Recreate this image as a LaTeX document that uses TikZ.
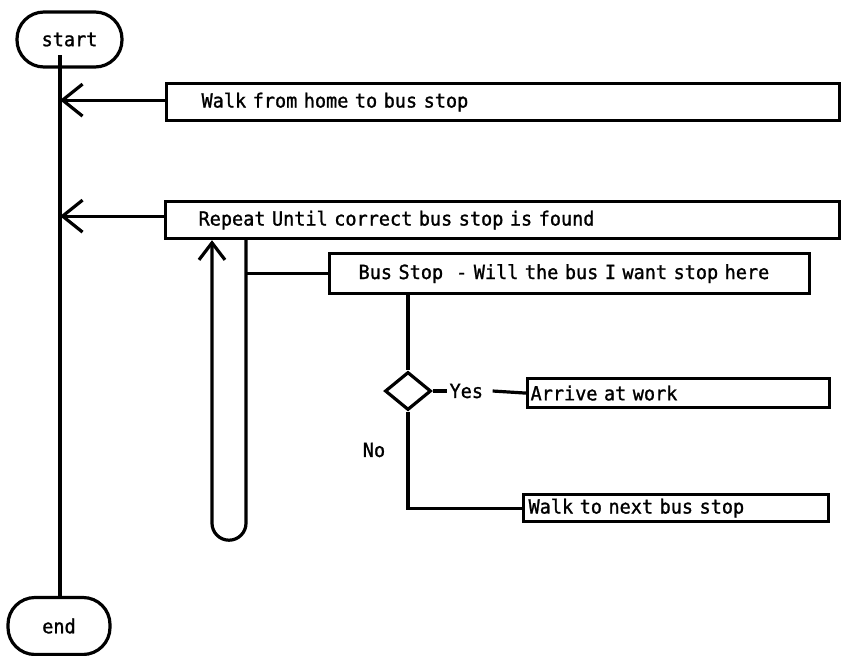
\documentclass[tikz,border=0pt]{standalone}
\usepackage{fontspec}
\newfontfamily\dotfont[FakeStretch=0.95,FakeBold=1.2]{DejaVu Sans Mono}
\usetikzlibrary{arrows.meta,shapes.geometric,calc}
\begin{document}
\begin{tikzpicture}[x=1pt,y=-1pt,line width=3.2pt,
  txt/.style={font=\dotfont\fontsize{19.5}{21}\selectfont},
  box/.style={txt,draw,anchor=north west,align=left,inner ysep=0pt},
  term/.style={txt,draw,rounded corners=27pt},
  bigarrow/.style={-{Straight Barb[length=20pt,width=32pt]}},
  uparrow/.style={-{Straight Barb[length=17pt,width=26pt]}}]
\useasboundingbox (0,0) rectangle (847,656);
\fill[white] (0,0) rectangle (847,656);
% terminals
\node[term,minimum width=105pt,minimum height=55pt] (start) at (69.5,39.5) {start};
\node[term,minimum width=102pt,minimum height=57pt] (stop) at (59,626) {end};
\coordinate (top) at (60,55);
\draw (top) -- (top |- stop.north);
% boxes
\node[box,minimum width=673pt,minimum height=37pt,inner xsep=35pt,text width=603pt] (b1) at (165,82) {Walk from home to bus stop};
\node[box,minimum width=674pt,minimum height=37pt,inner xsep=33pt,text width=608pt] (b2) at (164,200) {Repeat Until correct bus stop is found};
\node[box,minimum width=480pt,minimum height=40pt,inner xsep=29pt,text width=422pt] (b3) at (328,252) {Bus Stop\ \ - Will the bus I want stop here};
\node[box,minimum width=302pt,minimum height=29pt,inner xsep=3pt,text width=296pt] (arr) at (526,377) {Arrive at work};
\node[box,minimum width=305pt,minimum height=27pt,inner xsep=5pt,text width=295pt] (walk) at (522,493) {Walk to next bus stop};
% arrows to main line
\draw[bigarrow] ([yshift=2pt]b1.west) -- ([yshift=2pt]b1.west -| top);
\draw[bigarrow] ([yshift=4pt]b2.west) -- ([yshift=4pt]b2.west -| top);
% loop
\coordinate (loopR) at ($(b2.south west)+(82,0)$);
\coordinate (loopL) at ($(b2.south west)+(48,0)$);
\draw[uparrow] (loopR) -- ++(0,283) arc (0:180:17) -- (loopL);
\draw (loopR |- b3.west) -- (b3.west);
% decision
\node[draw,diamond,minimum width=46pt,minimum height=38pt,inner sep=0pt] (dia) at (408,391) {};
\draw (dia |- b3.south) -- (dia.north);
\node[txt,anchor=west,inner xsep=1pt] (yes) at (447,391) {Yes};
\draw (dia.east) -- (yes.west);
\draw ([xshift=7pt]yes.east) -- (arr.west);
\node[txt] (no) at (374,450) {No};
\draw (dia.south) |- (walk.west);
\end{tikzpicture}
\end{document}
